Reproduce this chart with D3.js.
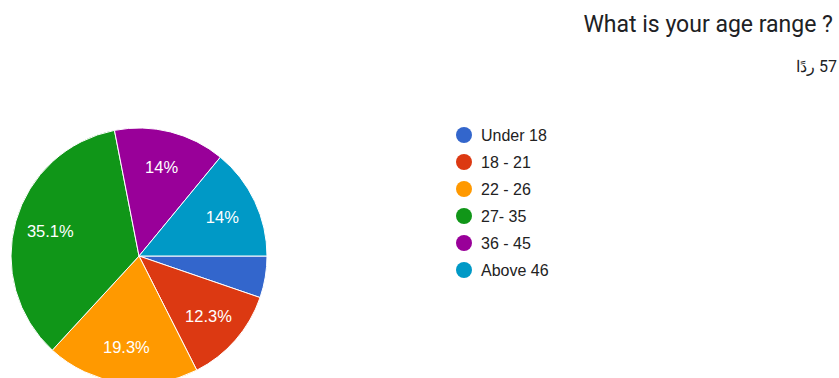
<!DOCTYPE html>
<html>
<head>
<meta charset="utf-8">
<script src="https://cdn.jsdelivr.net/npm/d3@7"></script>
<style>
  html, body { margin: 0; padding: 0; background: #fff; }
  svg { display: block; }
</style>
</head>
<body>
<svg id="chart" width="839" height="378"></svg>
<script>
// Survey answers: age ranges and number of responses
const categories = ["Under 18", "18 - 21", "22 - 26", "27- 35", "36 - 45", "Above 46"];
const counts = [3, 7, 11, 20, 8, 8];
const percentLabels = ["", "12.3%", "19.3%", "35.1%", "14%", "14%"];
const colors = ["#3366cc", "#dc3912", "#ff9900", "#109618", "#990099", "#0099c6"];
const title = "What is your age range ?";
const responsesText = "57 ردًا";

const svg = d3.select("#chart");

// Header
svg.append("text")
  .attr("x", 833).attr("y", 32)
  .attr("text-anchor", "end")
  .attr("font-family", "Roboto, 'Liberation Sans', sans-serif")
  .attr("font-size", 23)
  .attr("fill", "#202124")
  .text(title);

svg.append("text")
  .attr("x", 837).attr("y", 72)
  .attr("text-anchor", "start")
  .attr("direction", "rtl")
  .attr("font-family", "Roboto, 'Noto Sans', sans-serif")
  .attr("font-size", 16)
  .attr("fill", "#202124")
  .text(responsesText);

// Pie
const cx = 139, cy = 256, r = 128;
const pie = d3.pie().sort(null).value(d => d)
  .startAngle(Math.PI / 2).endAngle(Math.PI / 2 + 2 * Math.PI);
const arcs = pie(counts);
const arc = d3.arc().innerRadius(0).outerRadius(r);
const labelArc = d3.arc().innerRadius(r * 0.72).outerRadius(r * 0.72);

const g = svg.append("g").attr("transform", `translate(${cx},${cy})`);
g.selectAll("path.slice")
  .data(arcs)
  .join("path")
  .attr("class", "slice")
  .attr("d", arc)
  .attr("fill", (d, i) => colors[i])
  .attr("stroke", "#fff")
  .attr("stroke-width", 1);

g.selectAll("text.pct")
  .data(arcs)
  .join("text")
  .attr("class", "pct")
  .attr("transform", d => `translate(${labelArc.centroid(d)})`)
  .attr("text-anchor", "middle")
  .attr("dy", "0.36em")
  .attr("font-family", "'Liberation Sans', Arial, sans-serif")
  .attr("font-size", 16.5)
  .attr("fill", "#fff")
  .text((d, i) => percentLabels[i]);

// Legend
const legend = svg.append("g").attr("transform", "translate(464,135)");
const rowStep = 27;
const rows = legend.selectAll("g.row")
  .data(categories)
  .join("g")
  .attr("class", "row")
  .attr("transform", (d, i) => `translate(0,${i * rowStep})`);
rows.append("circle")
  .attr("r", 8)
  .attr("fill", (d, i) => colors[i]);
rows.append("text")
  .attr("x", 17)
  .attr("dy", "0.36em")
  .attr("font-family", "'Liberation Sans', Arial, sans-serif")
  .attr("font-size", 16)
  .attr("fill", "#222")
  .text(d => d);
</script>
</body>
</html>
